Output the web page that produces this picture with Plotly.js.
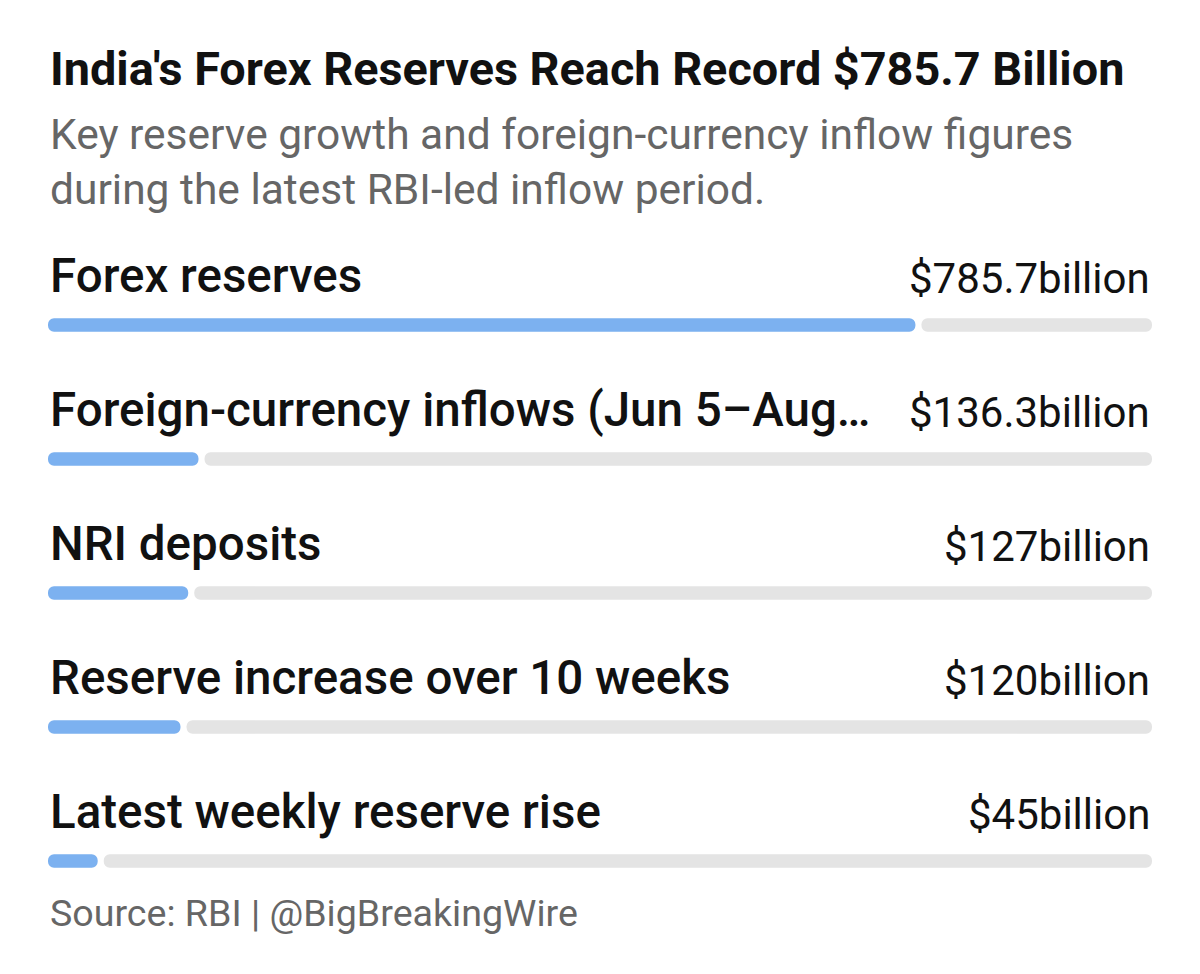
<!DOCTYPE html>
<html>
<head>
<meta charset="utf-8">
<script src="https://cdn.plot.ly/plotly-3.0.1.min.js"></script>
<style>
  html, body { margin: 0; padding: 0; background: #fff; }
  #chart { width: 1200px; height: 974px; }
</style>
</head>
<body>
<div id="chart"></div>
<script>
// Data
var categories = [
    'Forex reserves',
    'Foreign-currency inflows (Jun 5\u2013Aug\u2026',
    'NRI deposits',
    'Reserve increase over 10 weeks',
    'Latest weekly reserve rise'
];
var values = [785.7, 136.3, 127, 120, 45];
var valueLabels = ['$785.7billion', '$136.3billion', '$127billion', '$120billion', '$45billion'];
var scaleMax = 1000;

var BLUE = '#7cb1f0';
var TRACK = '#e4e4e4';
var GAP = 5.5; // white gap between value bar and track, in axis units

var rows = categories.map(function (c, i) { return i; });

// value bar drawn from its end back to 0 so that the rounded end sits on the left
var valueTrace = {
    type: 'bar',
    orientation: 'h',
    y: rows,
    base: values,
    x: values.map(function (v) { return -v; }),
    width: 0.1,
    marker: { color: BLUE, cornerradius: '50%' },
    hoverinfo: 'skip'
};

// remaining grey track, rounded at the right end
var trackTrace = {
    type: 'bar',
    orientation: 'h',
    y: rows,
    base: values.map(function (v) { return v + GAP; }),
    x: values.map(function (v) { return scaleMax - v - GAP; }),
    width: 0.1,
    marker: { color: TRACK, cornerradius: '50%' },
    hoverinfo: 'skip'
};

var annotations = [];

categories.forEach(function (c, i) {
    annotations.push({
        text: c, x: 0, xref: 'x', y: i, yref: 'y',
        xanchor: 'left', yanchor: 'bottom', yshift: 19, showarrow: false,
        font: { family: 'Roboto', size: 47.5, color: '#111', weight: 500 }
    });
    annotations.push({
        text: valueLabels[i], x: 1, xref: 'paper', y: i, yref: 'y',
        xanchor: 'right', yanchor: 'bottom', yshift: 20, showarrow: false,
        font: { family: 'Roboto', size: 42, color: '#111' }
    });
});

// Heading, subtitle and source
annotations.push({
    text: "India's Forex Reserves Reach Record $785.7 Billion",
    xref: 'paper', yref: 'paper', x: 0, y: 1 - 98 / 974,
    xanchor: 'left', yanchor: 'bottom', showarrow: false,
    font: { family: 'Roboto', size: 46.8, color: '#111', weight: 700 }
});
annotations.push({
    text: 'Key reserve growth and foreign-currency inflow figures<br>during the latest RBI-led inflow period.',
    xref: 'paper', yref: 'paper', x: 0, y: 1 - 216 / 974,
    xanchor: 'left', yanchor: 'bottom', align: 'left', showarrow: false,
    font: { family: 'Roboto', size: 42.5, color: '#666' }
});
annotations.push({
    text: 'Source: RBI | @BigBreakingWire',
    xref: 'paper', yref: 'paper', x: 0, y: 1 - 937 / 974,
    xanchor: 'left', yanchor: 'bottom', showarrow: false,
    font: { family: 'Roboto', size: 37.6, color: '#666' }
});

var layout = {
    width: 1200,
    height: 974,
    margin: { l: 48, r: 48, t: 0, b: 0 },
    paper_bgcolor: '#fff',
    plot_bgcolor: '#fff',
    barmode: 'overlay',
    showlegend: false,
    hovermode: false,
    xaxis: { range: [0, scaleMax], visible: false, fixedrange: true },
    yaxis: { range: [4.843, -2.425], visible: false, fixedrange: true },
    annotations: annotations
};

Plotly.newPlot('chart', [valueTrace, trackTrace], layout, { displayModeBar: false, staticPlot: true });
</script>
</body>
</html>
